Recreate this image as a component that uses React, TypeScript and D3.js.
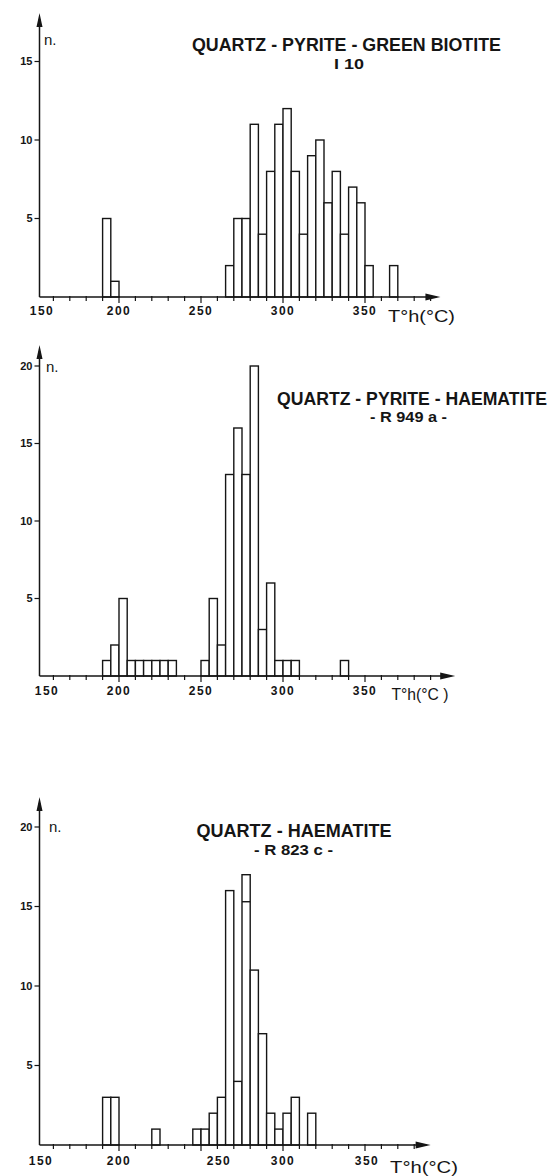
import * as d3 from "d3";

// ---- data (5 °C bins, value = bin start) ----
const i10Bins = [190, 195, 265, 270, 275, 280, 285, 290, 295, 300, 305, 310, 315, 320, 325, 330, 335, 340, 345, 350, 365];
const i10Counts = [5, 1, 2, 5, 5, 11, 4, 8, 11, 12, 8, 4, 9, 10, 6, 8, 4, 7, 6, 2, 2];

const r949Bins = [190, 195, 200, 205, 210, 215, 220, 225, 230, 250, 255, 260, 265, 270, 275, 280, 285, 290, 295, 300, 305, 335];
const r949Counts = [1, 2, 5, 1, 1, 1, 1, 1, 1, 1, 5, 2, 13, 16, 13, 20, 3, 6, 1, 1, 1, 1];

const r823Bins = [190, 195, 220, 245, 250, 255, 260, 265, 270, 275, 280, 285, 290, 295, 300, 305, 315];
const r823Counts = [3, 3, 1, 1, 1, 2, 3, 16, 4, 17, 11, 7, 2, 1, 2, 3, 2];
// stray horizontal stroke inside the 275 bar of R 823 c
const r823Overdrawn = [{ bin: 275, value: 15.3 }];

const xTickLabels = [150, 200, 250, 300, 350];
const yTicksShort = [5, 10, 15];
const yTicksLong = [5, 10, 15, 20];

const BIN = 5;
const INK = "#151515";
const FONT = "'Liberation Sans', Arial, sans-serif";

type Layout = {
  baseline: number;
  ppu: number; // px per count
  yTip: number;
  xEnd: number; // temperature where the x arrow ends
  labelNudge: { [k: number]: number };
  title: { x: number; y: number; w: number };
  sub: { x: number; y: number; w: number; size: number };
  nLabel: { x: number; y: number };
  unit: { x: number; y: number; w: number };
  labelDy: number;
};

type HistProps = {
  bins: number[];
  counts: number[];
  yTicks: number[];
  title: string;
  subtitle: string;
  unitText: string;
  overdrawn?: { bin: number; value: number }[];
  L: Layout;
};

const x = d3.scaleLinear().domain([150, 400]).range([37, 447]);
const Y_AXIS_X = 39.5;

function Histogram({ bins, counts, yTicks, title, subtitle, unitText, overdrawn = [], L }: HistProps) {
  const y = d3.scaleLinear().domain([0, 20]).range([L.baseline, L.baseline - 20 * L.ppu]);
  const minor = d3.range(160, L.xEnd - 5, 10);
  const xTip = x(L.xEnd);

  return (
    <g>
      {/* bars */}
      {bins.map((b, i) => (
        <rect
          key={b}
          x={x(b)}
          y={y(counts[i])}
          width={x(b + BIN) - x(b)}
          height={y(0) - y(counts[i])}
          fill="white"
          stroke={INK}
          strokeWidth={1.4}
        />
      ))}
      {overdrawn.map((o) => (
        <line key={o.bin} x1={x(o.bin)} x2={x(o.bin + BIN)} y1={y(o.value)} y2={y(o.value)} stroke={INK} strokeWidth={1.4} />
      ))}

      {/* x axis */}
      <line x1={Y_AXIS_X} x2={xTip - 4} y1={L.baseline} y2={L.baseline} stroke={INK} strokeWidth={1.5} />
      <path d={`M${xTip},${L.baseline} L${xTip - 15},${L.baseline - 3.5} L${xTip - 15},${L.baseline + 3.5} Z`} fill={INK} />
      {minor.map((t) => (
        <line
          key={t}
          x1={x(t)}
          x2={x(t)}
          y1={L.baseline - 1}
          y2={L.baseline + (t % 50 === 0 ? 6 : 4)}
          stroke={INK}
          strokeWidth={1.2}
        />
      ))}
      {xTickLabels.map((t) => (
        <text
          key={t}
          x={x(t) + (L.labelNudge[t] ?? 0)}
          y={L.baseline + L.labelDy}
          textAnchor="middle"
          fontFamily={FONT}
          fontWeight="bold"
          fontSize={12}
          letterSpacing={1.5}
          fill={INK}
        >
          {t}
        </text>
      ))}
      <text
        x={L.unit.x}
        y={L.unit.y}
        fontFamily={FONT}
        fontSize={17}
        textLength={L.unit.w}
        lengthAdjust="spacingAndGlyphs"
        fill={INK}
      >
        {unitText}
      </text>

      {/* y axis */}
      <line x1={Y_AXIS_X} x2={Y_AXIS_X} y1={L.baseline} y2={L.yTip + 6} stroke={INK} strokeWidth={1.5} />
      <path d={`M${Y_AXIS_X},${L.yTip} L${Y_AXIS_X - 3},${L.yTip + 14} L${Y_AXIS_X + 3},${L.yTip + 14} Z`} fill={INK} />
      {yTicks.map((v) => (
        <g key={v}>
          <line x1={Y_AXIS_X - 5} x2={Y_AXIS_X} y1={y(v)} y2={y(v)} stroke={INK} strokeWidth={1.2} />
          <text
            x={Y_AXIS_X - 7}
            y={y(v)}
            dy="0.35em"
            textAnchor="end"
            fontFamily={FONT}
            fontWeight="bold"
            fontSize={11}
            fill={INK}
          >
            {v}
          </text>
        </g>
      ))}
      <text x={L.nLabel.x} y={L.nLabel.y} fontFamily={FONT} fontSize={15} fill={INK}>
        n.
      </text>

      {/* titles */}
      <text
        x={L.title.x}
        y={L.title.y}
        textAnchor="middle"
        fontFamily={FONT}
        fontWeight="bold"
        fontSize={18}
        textLength={L.title.w}
        lengthAdjust="spacingAndGlyphs"
        fill={INK}
      >
        {title}
      </text>
      <text
        x={L.sub.x}
        y={L.sub.y}
        textAnchor="middle"
        fontFamily={FONT}
        fontWeight="bold"
        fontSize={L.sub.size}
        textLength={L.sub.w}
        lengthAdjust="spacingAndGlyphs"
        fill={INK}
      >
        {subtitle}
      </text>
    </g>
  );
}

const layoutI10: Layout = {
  baseline: 297,
  ppu: 15.7,
  yTip: 13,
  xEnd: 396,
  labelNudge: { 150: 5 },
  title: { x: 346.5, y: 51, w: 309 },
  sub: { x: 349, y: 69, w: 30, size: 15 },
  nLabel: { x: 44, y: 45 },
  unit: { x: 388, y: 322, w: 67 },
  labelDy: 18,
};

const layoutR949: Layout = {
  baseline: 676,
  ppu: 15.5,
  yTip: 345,
  xEnd: 405,
  labelNudge: { 150: 10 },
  title: { x: 412, y: 405, w: 270 },
  sub: { x: 408.5, y: 422, w: 77, size: 14 },
  nLabel: { x: 46, y: 372 },
  unit: { x: 391.5, y: 700, w: 57 },
  labelDy: 19,
};

const layoutR823: Layout = {
  baseline: 1145,
  ppu: 15.9,
  yTip: 797,
  xEnd: 390,
  labelNudge: { 150: 4, 250: 18, 350: 2 },
  title: { x: 294, y: 837, w: 195 },
  sub: { x: 293.5, y: 855, w: 79, size: 14 },
  nLabel: { x: 49, y: 832 },
  unit: { x: 390, y: 1173, w: 68 },
  labelDy: 20,
};

export default function App() {
  return (
    <div style={{ position: "absolute", left: 0, top: 0, background: "white" }}>
      <svg width={553} height={1176} style={{ display: "block", background: "white" }}>
        <Histogram
          bins={i10Bins}
          counts={i10Counts}
          yTicks={yTicksShort}
          title="QUARTZ - PYRITE - GREEN BIOTITE"
          subtitle="I 10"
          unitText="T°h(°C)"
          L={layoutI10}
        />
        <Histogram
          bins={r949Bins}
          counts={r949Counts}
          yTicks={yTicksLong}
          title="QUARTZ - PYRITE - HAEMATITE"
          subtitle="- R 949 a -"
          unitText="T°h(°C )"
          L={layoutR949}
        />
        <Histogram
          bins={r823Bins}
          counts={r823Counts}
          yTicks={yTicksLong}
          title="QUARTZ - HAEMATITE"
          subtitle="- R 823 c -"
          unitText="T°h(°C)"
          overdrawn={r823Overdrawn}
          L={layoutR823}
        />
      </svg>
    </div>
  );
}
